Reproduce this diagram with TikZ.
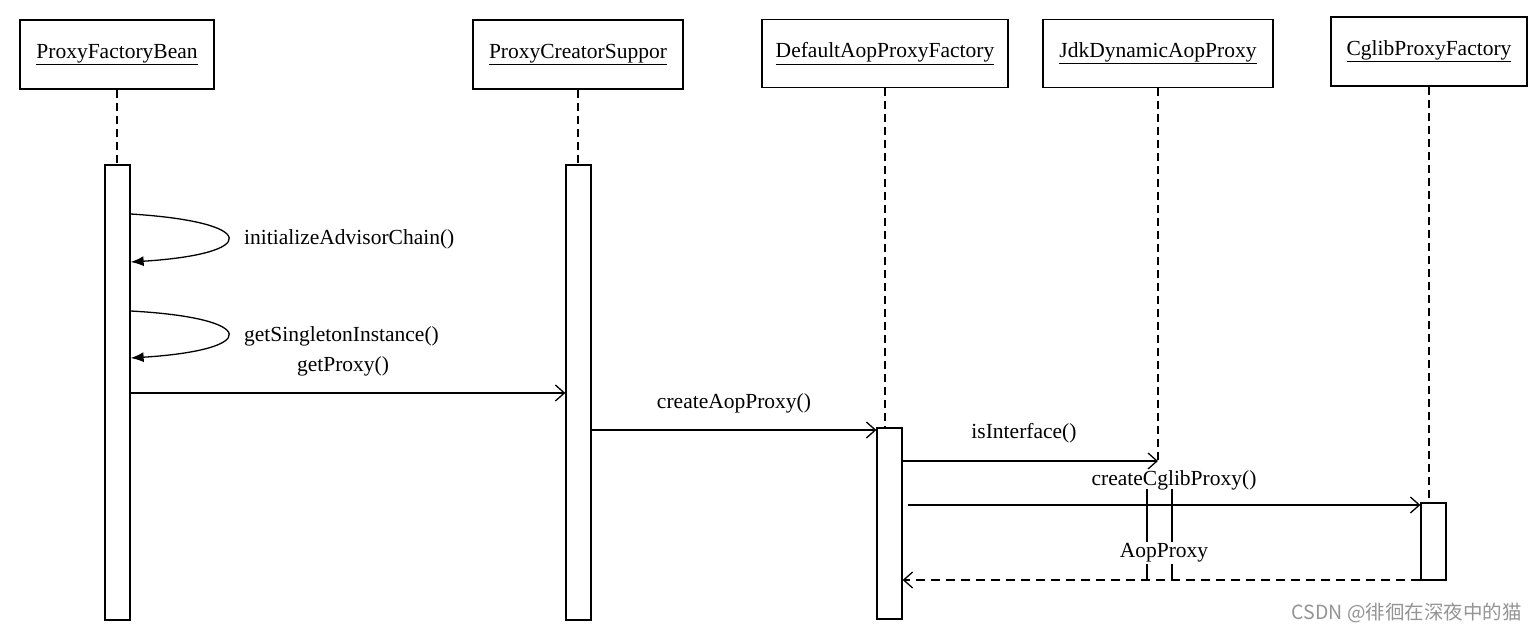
\documentclass[tikz,border=0pt]{standalone}
\usepackage{fontspec}
\setmainfont{Liberation Serif}
\newfontfamily\cjk{Noto Sans CJK SC}
\usetikzlibrary{arrows.meta}
\begin{document}
\begin{tikzpicture}[x=1pt,y=-1pt,
  lbl/.style={font=\fontsize{21.5}{24}\selectfont, inner sep=1pt},
  obj/.style={draw, line width=1.6pt, inner sep=0pt, minimum height=69, font=\fontsize{21.5}{24}\selectfont},
  act/.style={draw, fill=white, line width=1.3pt, minimum width=25, inner sep=0pt},
  life/.style={line width=1.2pt, dash pattern=on 8pt off 5pt},
  msg/.style={line width=1.3pt, -{Straight Barb[length=9pt,width=16pt,line width=1.3pt]}},
  ret/.style={line width=1.3pt, dash pattern=on 9pt off 6pt, -{Straight Barb[length=9pt,width=16pt,line width=1.3pt]}},
  selfc/.style={line width=1.3pt, -{Latex[length=13pt,width=10pt]}},
  wm/.style={font=\cjk\fontsize{19.5}{22}\selectfont, text=black!42, inner sep=0pt}]
\useasboundingbox[fill=white] (0,0) rectangle (1537,636);

% headers
\node[obj, minimum width=194] (pfb) at (117,54.5) {\underline{ProxyFactoryBean}};
\node[obj, minimum width=210] (pcs) at (578,54.5) {\underline{ProxyCreatorSuppor}};
\node[obj, minimum width=246, minimum height=68] (dapf) at (885,53.5) {\underline{DefaultAopProxyFactory}};
\node[obj, minimum width=230, minimum height=68] (jdk) at (1158,53.5) {\underline{JdkDynamicAopProxy}};
\node[obj, minimum width=196] (cglib) at (1429,51.5) {\underline{CglibProxyFactory}};

% activation boxes
\node[act, minimum height=455] (a1) at (117.5,392.5) {};
\node[act, minimum height=455] (a2) at (578.5,392.5) {};
\node[act, minimum height=191] (a3) at (889.5,523.5) {};
\node[act, minimum height=77] (a4) at (1433.5,541.5) {};

% lifelines
\draw[life] (pfb.south) -- (a1.north -| pfb.south);
\draw[life] (pcs.south) -- (a2.north -| pcs.south);
\draw[life] (dapf.south) -- (a3.north -| dapf.south);
\draw[life] (jdk.south) -- (jdk.south |- 0,461);
\draw[life] (cglib.south) -- (a4.north -| cglib.south);

% self calls
\draw[selfc] (a1.east |- 0,214) .. controls (260,222) and (260,254) .. (a1.east |- 0,262);
\node[lbl, anchor=west] (l1) at (243,239) {initializeAdvisorChain()};
\draw[selfc] (a1.east |- 0,311) .. controls (260,318) and (260,350) .. (a1.east |- 0,358);
\node[lbl, anchor=west] (l2) at (243,336) {getSingletonInstance()};

% messages
\node[lbl] (l3) at (343,366) {getProxy()};
\draw[msg] (a1.east |- 0,393) -- (a2.west |- 0,393);
\node[lbl] (l4) at (734,403) {createAopProxy()};
\draw[msg] (a2.east |- 0,430) -- (a3.west |- 0,430);
\node[lbl] (l5) at (1024,433) {isInterface()};
\draw[msg] (a3.east |- 0,461) -- (jdk.south |- 0,461);
\node[lbl] (l6) at (1174,480) {createCglibProxy()};
\draw[msg] ([xshift=5pt]a3.east |- 0,505) -- (a4.west |- 0,505);

% broken activation of JdkDynamicAopProxy
\coordinate (j1t) at (1147,489);
\coordinate (j1b) at (1147,580);
\coordinate (j2t) at (1172,489);
\coordinate (j2b) at (1172,580);
\draw[line width=1.3pt] (j1t) -- (j1b);
\draw[line width=1.3pt] (j2t) -- (j2b);
\node[lbl, fill=white, inner sep=2pt] (l7) at (1164,553) {AopProxy};

% return
\draw[ret] (a4.west |- 0,580) -- (a3.east |- 0,580);

% watermark
\node[wm, anchor=east] (wmk) at (1522,613) {CSDN @徘徊在深夜中的猫};
\end{tikzpicture}
\end{document}
